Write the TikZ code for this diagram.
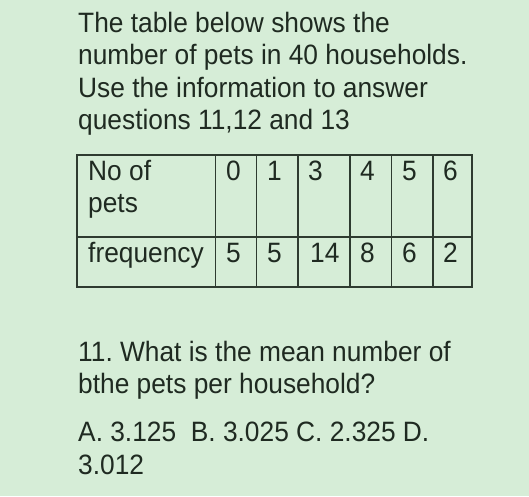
\documentclass[tikz,border=0pt]{standalone}
\usepackage{fontspec}
\setmainfont[FakeStretch=0.94]{Liberation Sans}
\begin{document}
\frenchspacing
\begin{tikzpicture}[x=1pt,y=-1pt,
  txt/.style={anchor=base west,inner sep=0pt,text=ink,font=\fontsize{28}{33}\selectfont},
  grid/.style={draw=rule,line width=1.4pt}]
\definecolor{bg}{HTML}{D6EDD7}
\definecolor{ink}{HTML}{1F2A21}
\definecolor{rule}{HTML}{2E3B30}
\fill[bg] (0,0) rectangle (529,496);
\useasboundingbox (0,0) rectangle (529,496);
% intro text
\node[txt] (l1) at (78,32) {The table below shows the};
\node[txt] (l2) at (78,64) {number of pets in 40 households.};
\node[txt] (l3) at (78,97) {Use the information to answer};
\node[txt] (l4) at (78,129) {questions 11,12 and 13};
% table
\draw[grid] (77,155) rectangle (472,287);
\draw[grid] (77,237) -- (472,237);
\foreach \x in {215.7,256.7,298,350,391.7,433} \draw[grid] (\x,155) -- (\x,287);
\node[txt] (h0) at (88,180) {No of};
\node[txt] (h1) at (88,212) {pets};
\node[txt] (f0) at (88,262) {frequency};
\node[txt] (a1) at (226,180) {0};
\node[txt] (a2) at (267,180) {1};
\node[txt] (a3) at (308,180) {3};
\node[txt] (a4) at (360,180) {4};
\node[txt] (a5) at (402,180) {5};
\node[txt] (a6) at (443,180) {6};
\node[txt] (b1) at (226,262) {5};
\node[txt] (b2) at (267,262) {5};
\node[txt] (b3) at (310,262) {14};
\node[txt] (b4) at (360,262) {8};
\node[txt] (b5) at (402,262) {6};
\node[txt] (b6) at (443,262) {2};
% question
\node[txt] (q1) at (78,361) {11. What is the mean number of};
\node[txt] (q2) at (78,393) {bthe pets per household?};
\node[txt] (q3) at (78,441) {A. 3.125\ \ B. 3.025 C. 2.325 D.};
\node[txt] (q4) at (78,474) {3.012};
\end{tikzpicture}
\end{document}
